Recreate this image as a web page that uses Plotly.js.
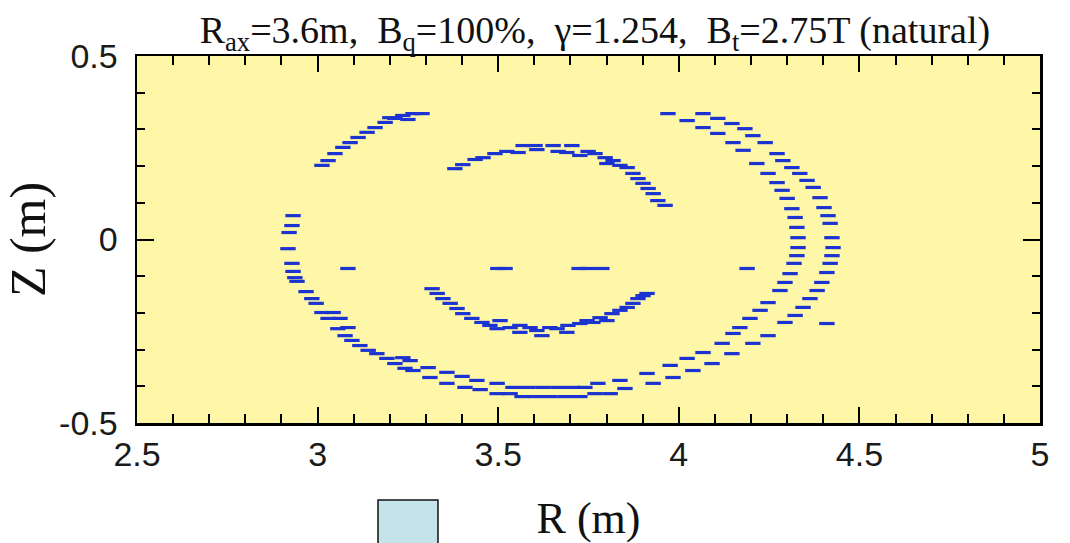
<!DOCTYPE html>
<html>
<head>
<meta charset="utf-8">
<script src="https://cdn.plot.ly/plotly-3.0.1.min.js"></script>
<style>html,body{margin:0;padding:0;background:#fff;}</style>
</head>
<body>
<div id="chart" style="width:1070px;height:543px;"></div>
<script>
// Outer pair of surfaces (stochastic layer)
const outerA_R = [3.289,3.264,3.250,3.236,3.200,3.214,3.187,3.159,3.137,3.112,3.090,3.070,3.048,3.029,3.012,
  3.043,3.062,3.084,3.236,3.256,3.306,3.358,3.400,3.441,3.497,3.541,3.582,3.624,3.666,3.707,3.740,3.776,3.837,3.912,
  3.976,4.023,4.067,4.120,4.150,4.169,4.197,4.225,4.247,4.280,4.294,4.308,4.319,4.327,4.330,4.330,4.327,4.322,4.313,
  4.300,4.286,4.272,4.247,4.216,4.178,4.150,4.108,4.067,4.023,3.970];
const outerA_Z = [0.343,0.343,0.327,0.338,0.332,0.330,0.319,0.305,0.292,0.278,0.264,0.251,0.234,0.215,0.202,
  -0.199,-0.215,-0.240,-0.322,-0.330,-0.349,-0.362,-0.373,-0.384,-0.392,-0.403,-0.403,-0.403,-0.403,-0.403,-0.403,-0.392,-0.384,-0.365,
  -0.343,-0.324,-0.308,-0.283,-0.256,-0.240,-0.215,-0.193,-0.172,-0.139,-0.117,-0.093,-0.065,-0.044,-0.022,0.005,0.033,0.060,0.084,
  0.112,0.134,0.155,0.180,0.207,0.243,0.264,0.289,0.305,0.324,0.343];

const outerB_R = [2.932,2.929,2.921,2.918,2.929,2.932,2.937,2.943,2.968,2.984,2.996,3.012,3.029,3.056,3.076,3.095,
  3.117,3.140,3.164,3.192,3.214,3.242,3.264,3.311,3.358,3.408,3.450,3.497,3.533,3.566,3.602,3.643,3.685,3.726,3.768,
  3.810,3.851,3.929,3.984,4.039,4.092,4.147,4.205,4.247,4.294,4.322,4.344,4.363,4.383,4.396,4.410,4.419,4.424,4.427,
  4.424,4.419,4.413,4.402,4.391,4.372,4.355,4.335,4.313,4.288,4.272,4.239,4.205,4.183,4.147,4.108,4.067];
const outerB_Z = [0.065,0.038,0.019,-0.025,-0.065,-0.087,-0.104,-0.114,-0.142,-0.161,-0.174,-0.199,-0.215,-0.243,-0.262,-0.275,
  -0.289,-0.302,-0.311,-0.324,-0.338,-0.351,-0.357,-0.376,-0.392,-0.403,-0.409,-0.420,-0.420,-0.428,-0.428,-0.428,-0.428,-0.428,-0.420,
  -0.420,-0.406,-0.392,-0.376,-0.357,-0.338,-0.311,-0.283,-0.262,-0.226,-0.207,-0.185,-0.161,-0.139,-0.117,-0.090,-0.065,-0.044,-0.022,
  0.005,0.044,0.065,0.087,0.114,0.142,0.161,0.180,0.196,0.215,0.234,0.264,0.283,0.302,0.316,0.330,0.343];

// Inner ring
const innerTop_R = [3.380,3.402,3.436,3.458,3.491,3.524,3.555,3.569,3.602,3.607,3.652,3.666,3.690,3.704,3.726,3.749,
  3.768,3.796,3.801,3.818,3.837,3.857,3.873,3.887,3.901,3.915,3.929,3.942,3.962];
const innerTop_Z = [0.193,0.204,0.218,0.223,0.234,0.240,0.237,0.256,0.256,0.245,0.256,0.240,0.237,0.256,0.229,0.240,
  0.234,0.223,0.207,0.215,0.202,0.196,0.180,0.166,0.153,0.139,0.125,0.106,0.093];
const innerBot_R = [3.317,3.331,3.347,3.367,3.386,3.402,3.427,3.455,3.477,3.505,3.497,3.533,3.560,3.588,3.560,3.607,
  3.621,3.643,3.663,3.690,3.693,3.726,3.746,3.762,3.782,3.801,3.815,3.837,3.857,3.873,3.887,3.901,3.912];
const innerBot_Z = [-0.134,-0.147,-0.161,-0.174,-0.188,-0.202,-0.215,-0.226,-0.234,-0.221,-0.243,-0.240,-0.234,-0.240,-0.253,-0.248,
  -0.262,-0.240,-0.243,-0.253,-0.234,-0.229,-0.221,-0.226,-0.213,-0.221,-0.202,-0.193,-0.185,-0.174,-0.161,-0.153,-0.147];

// Isolated points
const iso_R = [3.084,3.499,3.519,3.724,3.746,3.787,4.189,4.410];
const iso_Z = [-0.079,-0.079,-0.079,-0.079,-0.079,-0.079,-0.079,-0.229];

const yTickVals = [-0.5,0,0.5];
const yTickText = ['-0.5','0','0.5'];

const dotColor = '#1b33d1';
function pts(x,y){
  return {x:x, y:y, type:'scatter', mode:'markers', hoverinfo:'skip',
    marker:{symbol:'line-ew', size:11, color:dotColor, line:{width:3.2, color:dotColor}}};
}
const data = [pts(outerA_R,outerA_Z), pts(outerB_R,outerB_Z), pts(innerTop_R,innerTop_Z), pts(innerBot_R,innerBot_Z), pts(iso_R,iso_Z)];

const tickFont = {family:'Liberation Sans, Arial, sans-serif', size:34, color:'#1a1a1a'};
const serif = 'Liberation Serif, Times New Roman, serif';
const layout = {
  width:1070, height:543,
  margin:{l:137, r:30, t:56, b:120},
  paper_bgcolor:'#ffffff', plot_bgcolor:'#fff7a8',
  showlegend:false,
  title:{text:'R<sub>ax</sub>=3.6m,&nbsp; B<sub>q</sub>=100%,&nbsp; γ=1.254,&nbsp; B<sub>t</sub>=2.75T (natural)',
    font:{family:serif, size:38, color:'#111'},
    x:0.556, xanchor:'center', y:0.945, yanchor:'middle'},
  xaxis:{range:[2.5,5], tickmode:'linear', tick0:2.5, dtick:0.5,
    ticks:'inside', ticklen:16, tickwidth:2, tickcolor:'#000',
    minor:{dtick:0.1, ticks:'inside', ticklen:9, tickwidth:2, tickcolor:'#000'},
    showline:true, linewidth:2.5, linecolor:'#000', mirror:'ticks',
    showgrid:false, zeroline:false, tickfont:Object.assign({}, tickFont),
    title:{text:'R (m)', font:{family:serif, size:44, color:'#111'}, standoff:36}},
  yaxis:{range:[-0.5,0.5], tickmode:'array', tickvals:yTickVals, ticktext:yTickText,
    ticks:'inside', ticklen:17, tickwidth:2, tickcolor:'#000',
    minor:{dtick:0.1, tick0:-0.5, ticks:'inside', ticklen:8, tickwidth:2, tickcolor:'#000'},
    showline:true, linewidth:2.5, linecolor:'#000', mirror:'ticks',
    showgrid:false, zeroline:false, tickfont:Object.assign({}, tickFont), ticklabelstandoff:10,
    title:{text:'Z (m)', font:{family:serif, size:50, color:'#111'}, standoff:0}},
  shapes:[{type:'rect', xref:'paper', yref:'paper', x0:0.2669, x1:0.3333, y0:-0.34, y1:-0.2098,
    fillcolor:'#c5e4e9', line:{color:'#111', width:1.5}}]
};
Plotly.newPlot('chart', data, layout, {displayModeBar:false, staticPlot:true});
</script>
</body>
</html>
